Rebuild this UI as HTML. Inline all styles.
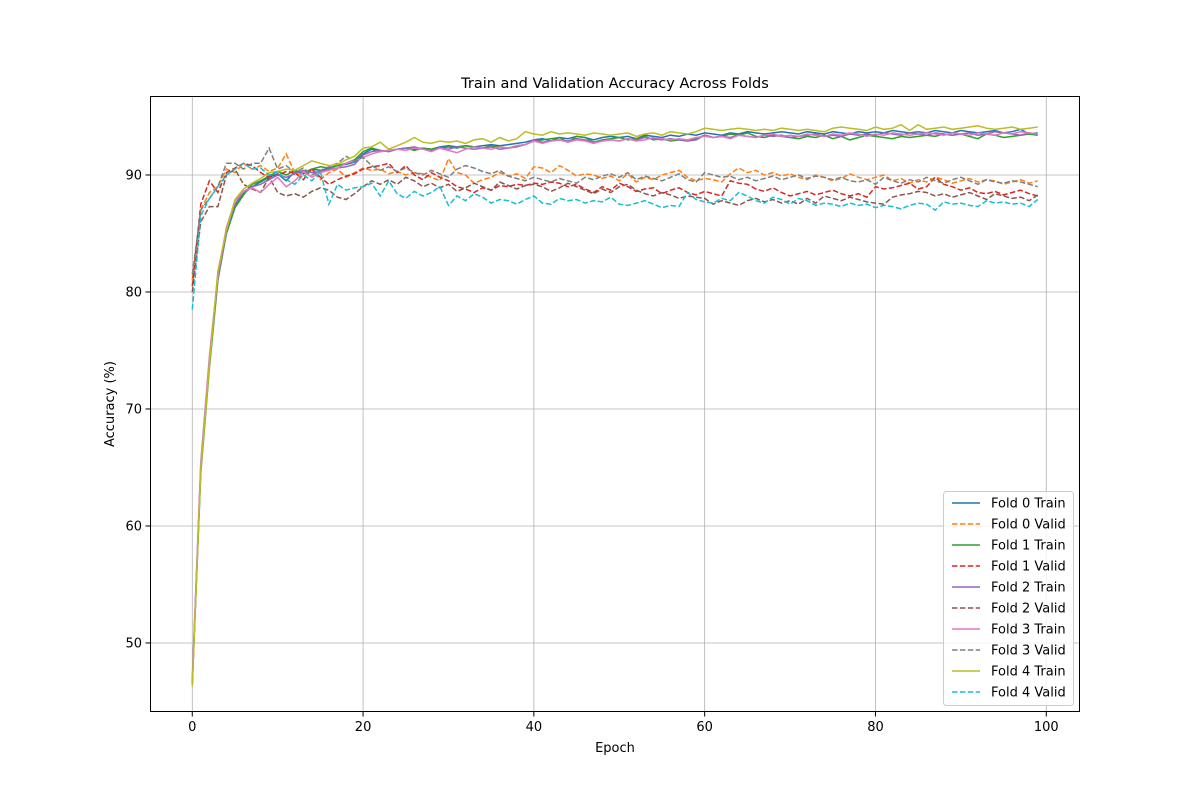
<!DOCTYPE html>
<html><head><meta charset="utf-8"><style>
body{margin:0;background:#fff;font-family:"Liberation Sans","DejaVu Sans",sans-serif}
svg text{font-family:"DejaVu Sans","Liberation Sans",sans-serif}
</style></head><body>
<svg id="chart" width="1200" height="800" xmlns="http://www.w3.org/2000/svg">
<rect width="1200" height="800" fill="#fff"/>
<g id="grid"></g>
<g id="series"></g>
<rect x="150.5" y="96.5" width="929" height="615" fill="none" stroke="#000" stroke-width="1"/>
<g id="ticks"></g>
<text x="615" y="88" font-size="14.5" text-anchor="middle">Train and Validation Accuracy Across Folds</text>
<text x="615" y="752" font-size="13" text-anchor="middle">Epoch</text>
<text x="114" y="404" font-size="13" text-anchor="middle" transform="rotate(-90 114 404)">Accuracy (%)</text>
<g id="legend"></g>
</svg>
<script>
const xTicks=[0,20,40,60,80,100];
const yTicks=[50,60,70,80,90];
const seriesNames=["Fold 0 Train","Fold 0 Valid","Fold 1 Train","Fold 1 Valid","Fold 2 Train","Fold 2 Valid","Fold 3 Train","Fold 3 Valid","Fold 4 Train","Fold 4 Valid"];
const colors=["#1f77b4","#ff7f0e","#2ca02c","#d62728","#9467bd","#8c564b","#e377c2","#7f7f7f","#bcbd22","#17becf"];
const f0Train=[46.5,65,74,81.5,85,87.3,88.4,89,89.4,89.8,90.1,89.5,90.3,90.1,90.5,90.4,90.6,90.8,90.9,91.1,91.8,92.2,92.0,92.1,92.2,92.3,92.2,92.3,92.2,92.4,92.5,92.4,92.5,92.4,92.5,92.6,92.5,92.6,92.7,92.8,93.0,93.1,92.9,93.2,93.1,93.3,93.2,93.0,93.2,93.3,93.2,93.3,93.1,93.4,93.3,93.2,93.4,93.3,93.5,93.4,93.6,93.5,93.4,93.6,93.5,93.7,93.6,93.5,93.6,93.7,93.6,93.5,93.7,93.6,93.5,93.7,93.6,93.5,93.7,93.6,93.7,93.6,93.8,93.7,93.6,93.7,93.6,93.8,93.7,93.6,93.8,93.7,93.6,93.7,93.8,93.6,93.7,93.9,93.5,93.6];
const f0Valid=[81,87,88.5,89,90.5,90.2,91,90.5,90.8,90.3,90.6,91.8,90.2,89.8,90.5,89.6,90.2,90.5,89.8,90.2,90.6,90.4,90.5,90.1,90.3,90.0,90.2,90.1,89.8,89.5,91.4,90.2,90.0,89.3,89.6,89.8,90.2,89.9,90.1,89.7,90.7,90.6,90.2,90.8,90.4,89.9,90.1,90.0,89.7,89.9,89.5,90.1,89.4,89.8,89.6,90.0,90.2,90.4,89.8,89.5,89.7,89.6,89.4,90.1,90.6,90.2,90.4,90.0,90.2,89.9,90.1,89.8,89.6,90.0,89.8,89.5,89.7,90.1,89.8,89.6,89.8,90.0,89.5,89.7,89.3,89.6,89.4,89.8,89.6,89.3,89.5,89.7,89.4,89.6,89.5,89.2,89.4,89.6,89.3,89.5];
const f1Train=[46.5,64.5,73.5,81,85,87.2,88.3,89.2,89.5,89.9,90.3,90.0,90.4,90.2,90.5,90.7,90.6,90.8,91.0,91.3,92.0,92.3,92.1,92.0,92.2,92.3,92.1,92.3,92.2,92.3,92.4,92.3,92.5,92.4,92.3,92.5,92.4,92.3,92.5,92.6,92.9,93.0,93.1,93.2,92.8,93.3,93.2,92.8,93.0,93.1,93.2,93.0,93.1,93.3,93.0,93.1,92.9,93.0,92.9,93.1,93.4,93.2,93.3,93.5,93.4,93.6,93.3,93.2,93.4,93.3,93.2,93.1,93.3,93.2,93.4,93.1,93.3,93.0,93.2,93.4,93.3,93.2,93.1,93.3,93.2,93.3,93.4,93.3,93.5,93.4,93.5,93.3,93.1,93.5,93.4,93.2,93.3,93.4,93.5,93.4];
const f1Valid=[80.5,87.5,89.5,88.5,90.2,90.6,91.0,90.8,90.2,89.8,90.0,90.3,90.2,89.6,90.5,89.8,89.2,89.6,89.9,90.1,90.5,90.7,90.8,91.0,90.2,90.8,90.0,89.6,90.2,89.8,89.5,89.0,88.8,88.5,88.9,88.7,89.1,89.0,89.2,89.1,89.3,89.2,89.4,89.3,89.0,89.2,88.8,88.5,89.0,88.7,89.3,89.0,88.6,88.8,88.9,88.4,88.7,88.9,88.5,88.3,88.6,88.4,88.2,89.5,89.3,89.2,88.8,88.6,88.9,88.5,88.2,88.4,88.6,88.3,88.5,88.7,88.4,88.2,88.4,88.1,89.0,88.8,88.9,89.1,89.3,88.8,89.0,89.8,89.2,89.0,88.7,88.9,88.5,88.4,88.6,88.3,88.5,88.7,88.4,88.2];
const f2Train=[46.7,65.2,74.2,81.2,85.2,87.5,88.6,89.0,89.2,89.6,90.0,89.8,90.1,90.4,90.2,90.3,90.5,90.6,90.7,90.9,91.7,92.0,92.1,92.0,92.2,92.3,92.4,92.2,92.1,92.3,92.2,92.4,92.3,92.2,92.3,92.4,92.2,92.3,92.4,92.6,93.0,92.8,92.9,93.0,92.9,93.1,93.0,92.8,92.9,93.0,92.9,93.1,93.0,93.2,93.1,93.0,93.1,93.0,92.9,93.0,93.4,93.2,93.3,93.2,93.4,93.3,93.2,93.4,93.3,93.4,93.2,93.3,93.4,93.5,93.3,93.4,93.3,93.5,93.4,93.5,93.4,93.6,93.5,93.4,93.6,93.5,93.4,93.6,93.5,93.4,93.5,93.6,93.4,93.5,93.7,93.6,93.5,93.4,93.6,93.5];
const f2Valid=[80,86,87.3,87.3,90,90.5,89.2,88.8,88.5,89.8,88.5,88.2,88.4,88.1,88.6,88.9,88.7,88.1,87.9,88.4,89.0,89.5,89.2,89.6,89.2,89.8,89.5,89.0,89.3,88.9,89.2,88.6,88.9,89.3,89.0,88.7,89.4,89.1,88.8,89.1,89.2,89.0,88.6,88.9,89.3,89.0,88.7,88.4,88.8,88.5,89.0,89.2,88.7,88.4,88.2,88.5,88.3,88.0,88.2,88.1,88.0,87.5,87.8,87.6,87.4,87.8,88.0,87.7,87.9,87.6,87.8,87.5,88.0,87.6,88.2,88.0,87.8,88.1,87.9,87.7,87.6,87.5,88.1,88.3,88.4,88.6,88.5,88.2,88.4,88.1,88.3,88.5,88.2,87.9,88.4,88.2,88.0,88.1,87.8,88.3];
const f3Train=[47,65.5,74.5,81.5,85.5,87.8,88.6,88.9,88.5,89.2,89.8,89.0,89.5,90.3,89.8,90.2,90.4,90.6,91.0,91.2,91.5,91.8,92.0,92.1,92.2,92.1,92.3,92.2,92.0,92.3,92.1,91.9,92.2,92.4,92.3,92.2,92.4,92.3,92.5,92.6,92.9,92.7,92.9,93.0,92.8,93.0,92.9,92.7,92.9,93.0,92.9,93.1,92.9,93.0,93.2,93.1,93.0,93.1,93.0,93.2,93.3,93.2,93.3,93.1,93.4,93.3,93.2,93.4,93.5,93.3,93.4,93.3,93.5,93.4,93.3,93.5,93.4,93.6,93.5,93.3,93.5,93.4,93.6,93.5,93.4,93.5,93.6,93.5,93.4,93.6,93.5,93.4,93.6,93.5,93.4,93.6,93.5,93.7,93.6,93.5];
const f3Valid=[81.5,87,88,89,91,91,90.5,91,91,92.3,90.5,90.8,90.2,90.6,90.0,90.4,90.7,91.0,91.6,91.2,91.5,90.8,90.4,90.7,90.3,90.6,90.2,90.0,90.4,90.1,89.8,90.5,90.8,90.6,90.3,90.1,90.4,89.9,89.7,89.5,89.8,89.6,89.4,89.7,89.5,89.3,89.8,89.6,89.9,90.1,89.8,90.2,89.6,89.9,89.7,89.5,89.8,90.1,89.6,89.4,90.2,90.0,89.8,89.9,89.6,89.8,89.5,89.7,89.9,89.6,89.8,90.0,89.7,89.9,89.8,89.6,89.8,89.5,89.4,89.6,89.2,89.8,89.5,89.3,89.6,89.4,89.8,89.5,89.3,89.6,89.8,89.5,89.2,89.6,89.4,89.3,89.5,89.4,89.2,89.0];
const f4Train=[46.3,64.8,73.8,81.8,85.3,87.9,88.8,89.3,89.7,90.2,90.3,90.5,90.4,90.8,91.2,91.0,90.8,90.9,91.3,91.6,92.3,92.4,92.8,92.2,92.5,92.8,93.2,92.8,92.7,92.9,92.8,92.9,92.7,93.0,93.1,92.8,93.2,92.9,93.1,93.7,93.5,93.4,93.7,93.5,93.6,93.5,93.4,93.6,93.5,93.4,93.5,93.6,93.3,93.5,93.6,93.4,93.7,93.6,93.5,93.7,94.0,93.9,93.8,93.9,94.0,93.9,93.8,93.9,93.8,94.0,93.9,93.8,93.9,93.8,93.7,94.0,94.1,94.0,93.9,93.8,94.1,93.9,94.0,94.3,93.8,94.3,93.9,94.0,94.1,93.9,94.0,94.1,94.2,94.0,93.9,94.0,94.1,93.9,94.0,94.1];
const f4Valid=[78.5,86.5,88,89,90,90.5,91,90.5,90.6,90.0,90.3,89.6,89.2,90.0,89.5,90.3,87.5,89.2,88.7,88.9,89.0,89.3,88.2,89.5,88.4,88.0,88.6,88.2,88.5,89.0,87.4,88.2,87.8,88.4,88.1,87.6,87.9,87.8,87.5,87.9,88.2,87.6,87.5,88.0,87.8,87.9,87.6,87.8,87.7,88.1,87.5,87.4,87.6,87.8,87.5,87.2,87.4,87.3,88.5,87.9,87.7,87.6,88.0,87.8,88.5,88.2,87.8,87.6,88.1,87.9,87.5,88.0,87.8,87.4,87.6,87.5,87.3,87.6,87.4,87.5,87.2,87.4,87.3,87.1,87.4,87.6,87.5,87.0,87.7,87.5,87.6,87.4,87.3,87.8,87.6,87.7,87.5,87.6,87.3,87.9];
const allSeries=[f0Train,f0Valid,f1Train,f1Valid,f2Train,f2Valid,f3Train,f3Valid,f4Train,f4Valid];

const L=150,R=1080,T=96,B=712,xMin=-4.95,xMax=103.95,yMin=44.1,yMax=96.75;
const X=v=>L+(v-xMin)/(xMax-xMin)*(R-L);
const Y=v=>B-(v-yMin)/(yMax-yMin)*(B-T);
const NS="http://www.w3.org/2000/svg";
function mk(tag,attrs,parent){const e=document.createElementNS(NS,tag);for(const k in attrs)e.setAttribute(k,attrs[k]);parent.appendChild(e);return e;}
const grid=document.getElementById('grid'),ticks=document.getElementById('ticks'),ser=document.getElementById('series'),leg=document.getElementById('legend');
xTicks.forEach(t=>{const x=X(t);
 const g=mk('line',{x1:x,x2:x,y1:T,y2:B,stroke:'#b0b0b0','stroke-width':0.8},grid);
 
 
 const tk=mk('line',{x1:x,x2:x,y1:B,y2:B+4.5,stroke:'#000'},ticks);
 
 
 const tx=mk('text',{x:x,y:B+19,'font-size':13,'text-anchor':'middle'},ticks);tx.textContent=t;
 
 
});
yTicks.forEach(t=>{const y=Y(t);
 const g=mk('line',{x1:L,x2:R,y1:y,y2:y,stroke:'#b0b0b0','stroke-width':0.8},grid);
 
 
 const tk=mk('line',{x1:L-4.5,x2:L,y1:y,y2:y,stroke:'#000'},ticks);
 
 
 const tx=mk('text',{x:L-8,y:y+4.5,'font-size':13,'text-anchor':'end'},ticks);tx.textContent=t;
 
 
});
allSeries.forEach((d,i)=>{
 const pts=d.map((v,j)=>X(j).toFixed(1)+','+Y(v).toFixed(1)).join(' ');
 const p=mk('polyline',{points:pts,fill:'none',stroke:colors[i],'stroke-width':1.5,'stroke-dasharray':i%2?'5.5,2.4':'none'},ser);
 
 
});
const lb=mk('rect',{x:943.5,y:491.5,width:130,height:214,rx:3,fill:'#fff','fill-opacity':0.8,stroke:'#ccc'},leg);


seriesNames.forEach((n,i)=>{const y=503+i*21;
 const g=mk('g',{},leg);
 
 
 mk('line',{x1:952,x2:980,y1:y,y2:y,stroke:colors[i],'stroke-width':1.5,'stroke-dasharray':i%2?'5.5,2.4':'none'},g);
 const t=mk('text',{x:991,y:y+4.5,'font-size':13},g);t.textContent=n;
});
</script>
</body></html>
